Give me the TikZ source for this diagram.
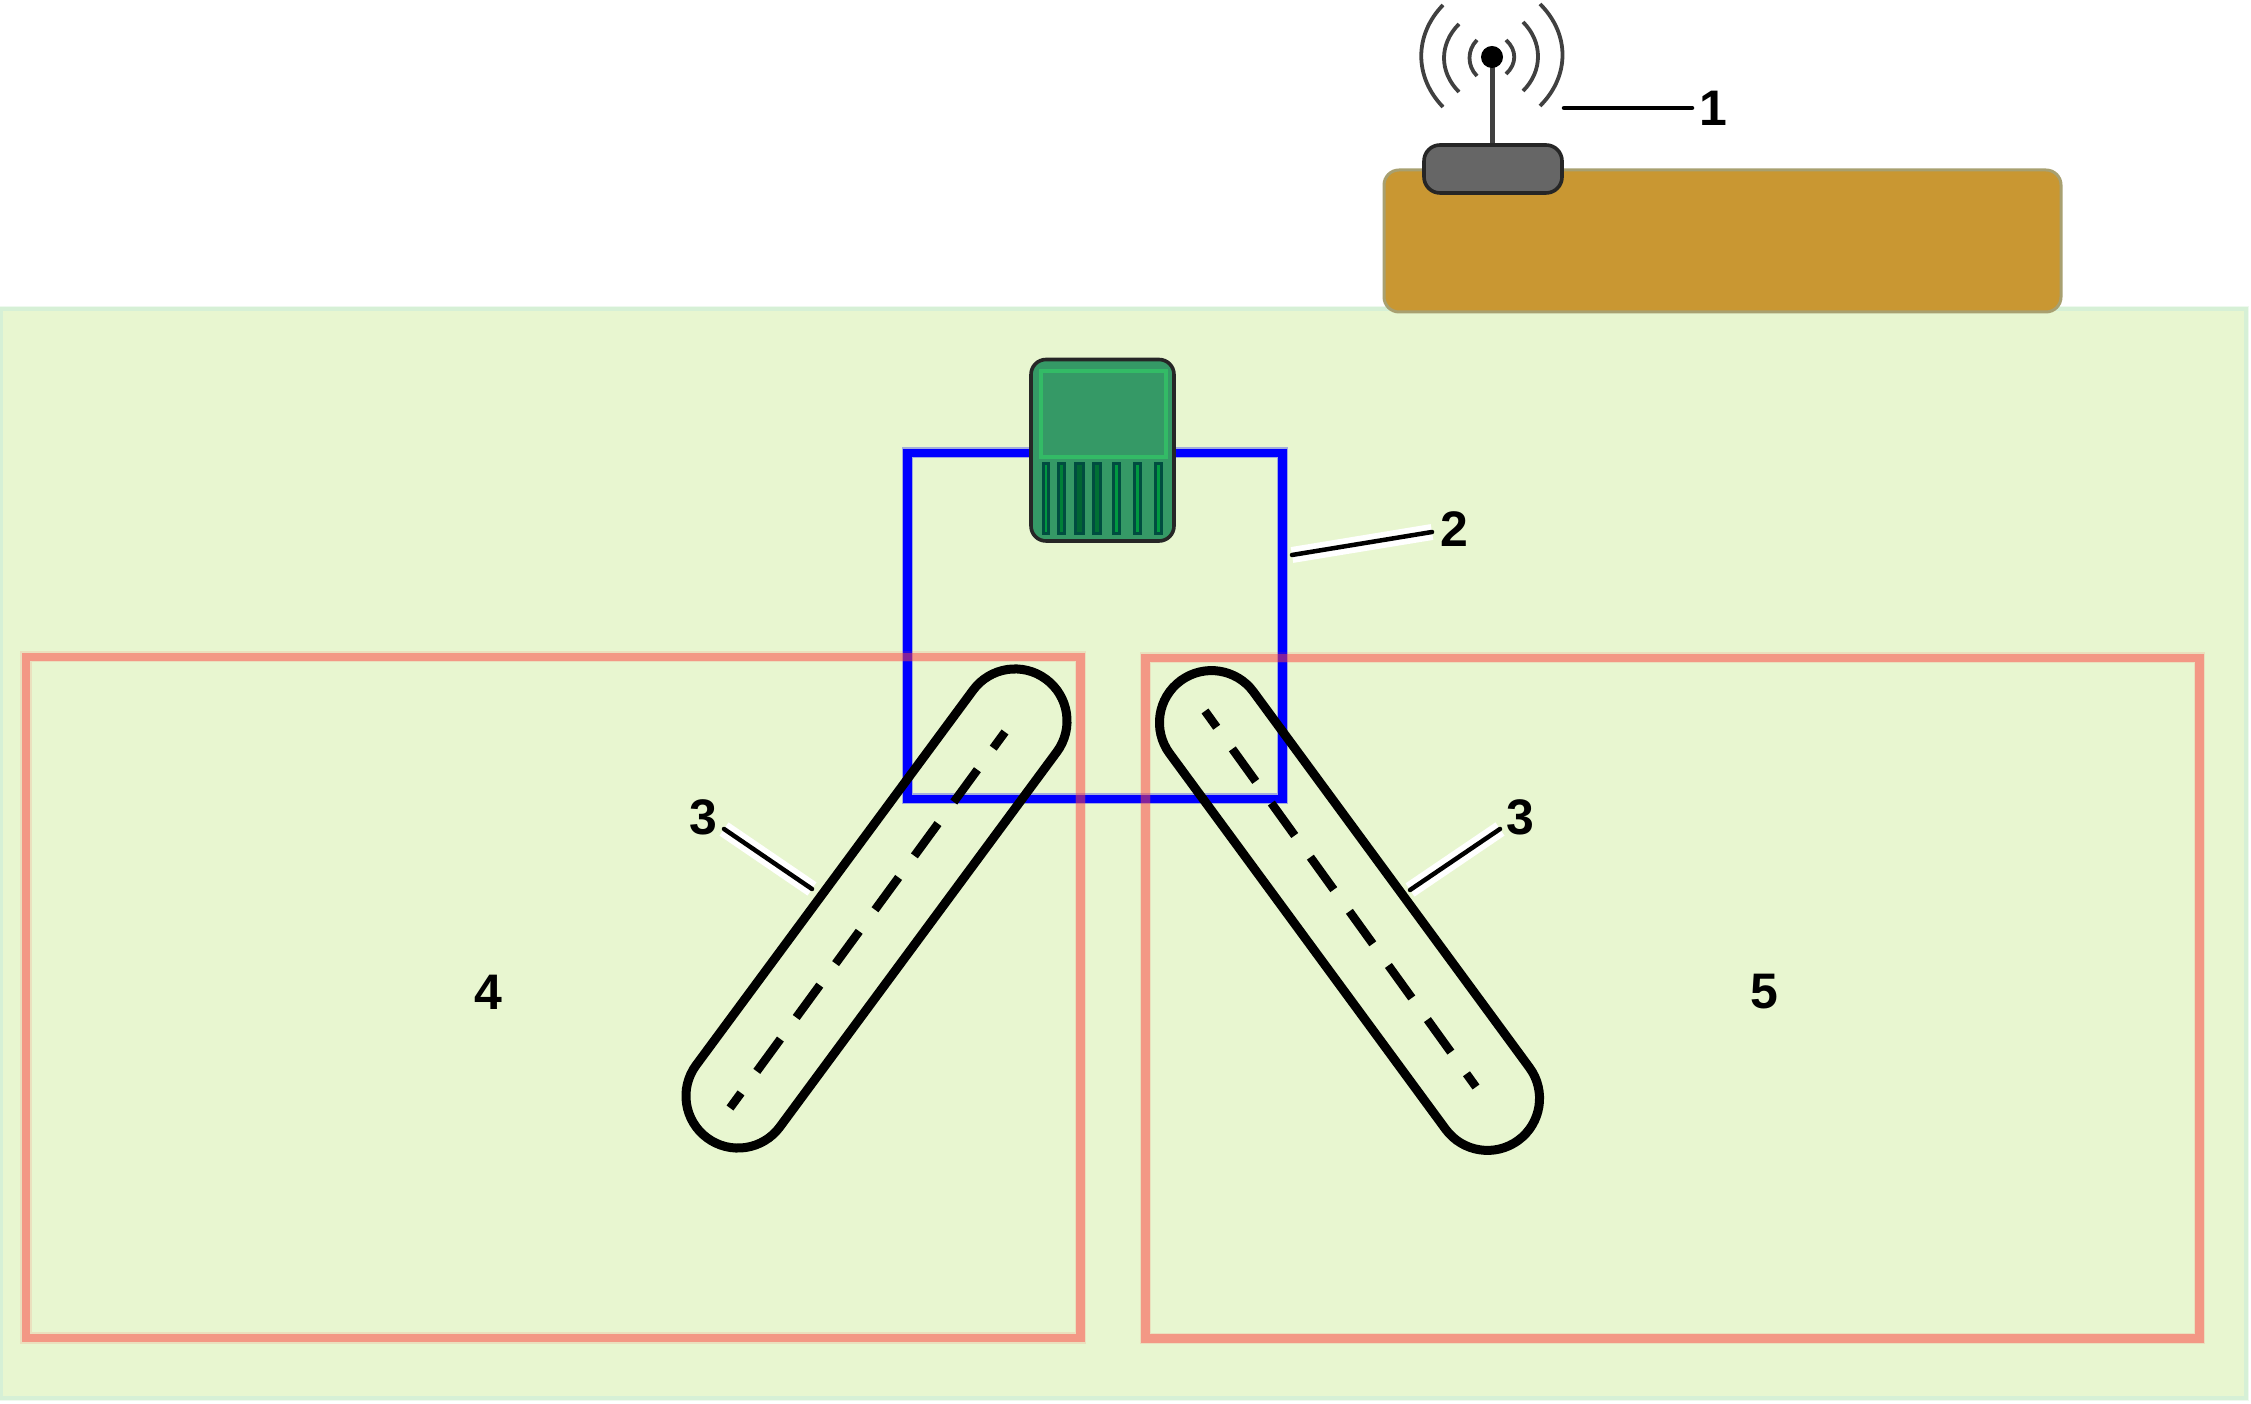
\documentclass[tikz,border=0pt]{standalone}
\usepackage{fontspec}
\setmainfont{Liberation Sans}
\definecolor{fieldgreen}{HTML}{E8F6D0}
\definecolor{fieldedge}{HTML}{D6F0D6}
\definecolor{fieldfringe}{HTML}{EEF9EE}
\definecolor{boxred}{HTML}{FF4240}
\definecolor{tablebrown}{HTML}{C99732}
\definecolor{tableedge}{HTML}{A8A070}
\definecolor{chipgreen}{HTML}{359966}
\definecolor{chiplight}{HTML}{33BB66}
\definecolor{pindark}{HTML}{004D40}
\definecolor{pinA}{HTML}{009940}
\definecolor{pinB}{HTML}{008038}
\definecolor{pinC}{HTML}{006633}
\definecolor{pinD}{HTML}{007035}
\tikzset{
  x=0.01cm,y=-0.01cm,
  zonebox/.style={draw=boxred,line width=0.85mm,draw opacity=.45},
  zonesoft/.style={draw=boxred,line width=1.1mm,draw opacity=.12},
  wirebox/.style={draw=blue,line width=0.85mm},
  wiresoft/.style={draw=blue,line width=1.1mm,draw opacity=.3},
  capsule/.style={draw=black,line width=0.9mm,rounded corners=0.5199cm,minimum width=5.7cm,minimum height=1.04cm,inner sep=0pt,outer sep=0pt},
  midline/.style={draw=black,line width=0.85mm,dash pattern=on 4mm off 2.67mm,dash phase=2mm,line cap=butt},
  numlabel/.style={font=\bfseries\fontsize{14.2pt}{14.2pt}\selectfont,inner sep=0pt},
  halo/.style={draw=white,line width=1.6mm},
  leader/.style={draw=black,line width=0.45mm,line cap=round},
  wave/.style={draw=black!75,line width=0.38mm},
  pinbar/.style={draw=pindark,line width=0.3mm,fill=#1},
}
\begin{document}
\begin{tikzpicture}
\useasboundingbox (0,0) rectangle (2251,1404);
% field
\fill[fieldfringe] (0,306) rectangle (2249,1401);
\draw[draw=fieldedge,line width=.35mm,fill=fieldgreen] (1.5,309) rectangle (2246,1398);
% table
\draw[draw=tableedge,line width=.3mm,fill=tablebrown,rounded corners=1.5mm] (1384,170) rectangle (2061,312);
% router
\draw[draw=black!85,line width=.36mm,fill=black!60,rounded corners=1.6mm] (1424,145) rectangle (1562,193);
\draw[draw=black!75,line width=.5mm] (1492,143) -- (1492,57);
\fill[black] (1492,57) circle (0.11cm);
\draw[wave] (1477,40) .. controls (1467,50) and (1467,66) .. (1477,76);
\draw[wave] (1459,24) .. controls (1439,44) and (1439,72) .. (1459,92);
\draw[wave] (1443,5) .. controls (1414,35) and (1414,77) .. (1443,107);
\draw[wave] (1506,40) .. controls (1517,50) and (1517,64) .. (1506,74);
\draw[wave] (1523,22) .. controls (1543,42) and (1543,71) .. (1523,91);
\draw[wave] (1540,4) .. controls (1570,34) and (1570,76) .. (1540,106);
% wire loop
\draw[wiresoft] (907.5,453) rectangle (1282.5,799);
\draw[wirebox] (907.5,453) rectangle (1282.5,799);
% zones
\draw[zonesoft] (26,657) rectangle (1080.5,1338);
\draw[zonesoft] (1145.5,658) rectangle (2199.5,1338.5);
\draw[zonebox] (26,657) rectangle (1080.5,1338);
\draw[zonebox] (1145.5,658) rectangle (2199.5,1338.5);
% chip
\draw[draw=black!85,line width=.36mm,fill=chipgreen,rounded corners=1.5mm] (1031,359.5) rectangle (1174,541);
\draw[draw=chiplight,line width=.32mm] (1041,371) rectangle (1166,457);
\draw[pinbar=pinA] (1043.2,463.5) rectangle (1048.5,533.5);
\draw[pinbar=pinB] (1058.2,463.5) rectangle (1064.2,533.5);
\draw[pinbar=pinC] (1075.8,463.5) rectangle (1083.5,533.5);
\draw[pinbar=pinD] (1093.2,463.5) rectangle (1100.2,533.5);
\draw[pinbar=pinA] (1113.8,463.5) rectangle (1119.5,533.5);
\draw[pinbar=pinA] (1134.8,463.5) rectangle (1140.2,533.5);
\draw[pinbar=pinA] (1155.5,463.5) rectangle (1161.2,533.5);
% probes
\node[capsule,rotate=53.55] (probeL) at (876.5,908.5) {};
\node[capsule,rotate=-53.7] (probeR) at (1349.5,910.5) {};
\coordinate (lineLa) at (1005,732);
\coordinate (lineLb) at (730,1108);
\coordinate (lineRa) at (1205,711);
\coordinate (lineRb) at (1476,1087);
\draw[midline] (lineLa) -- (lineLb);
\draw[midline] (lineRa) -- (lineRb);
% labels
\node[numlabel] (n1) at (1713,108) {1};
\node[numlabel] (n2) at (1454,529) {2};
\node[numlabel] (n3l) at (703,817) {3};
\node[numlabel] (n3r) at (1520,817) {3};
\node[numlabel] (n4) at (488,992) {4};
\node[numlabel] (n5) at (1764,992) {5};
% leaders
\coordinate (a1) at (1564,108);
\coordinate (b1) at (1692,108);
\coordinate (a2) at (1292,555);
\coordinate (b2) at (1432,532);
\coordinate (a3) at (812,889);
\coordinate (b3) at (724,829);
\coordinate (a4) at (1410,890);
\coordinate (b4) at (1500,829);
\draw[leader] (a1) -- (b1);
\draw[halo] (a2) -- (b2);
\draw[leader] (a2) -- (b2);
\draw[halo] (a3) -- (b3);
\draw[leader] (a3) -- (b3);
\draw[halo] (a4) -- (b4);
\draw[leader] (a4) -- (b4);
\end{tikzpicture}
\end{document}
